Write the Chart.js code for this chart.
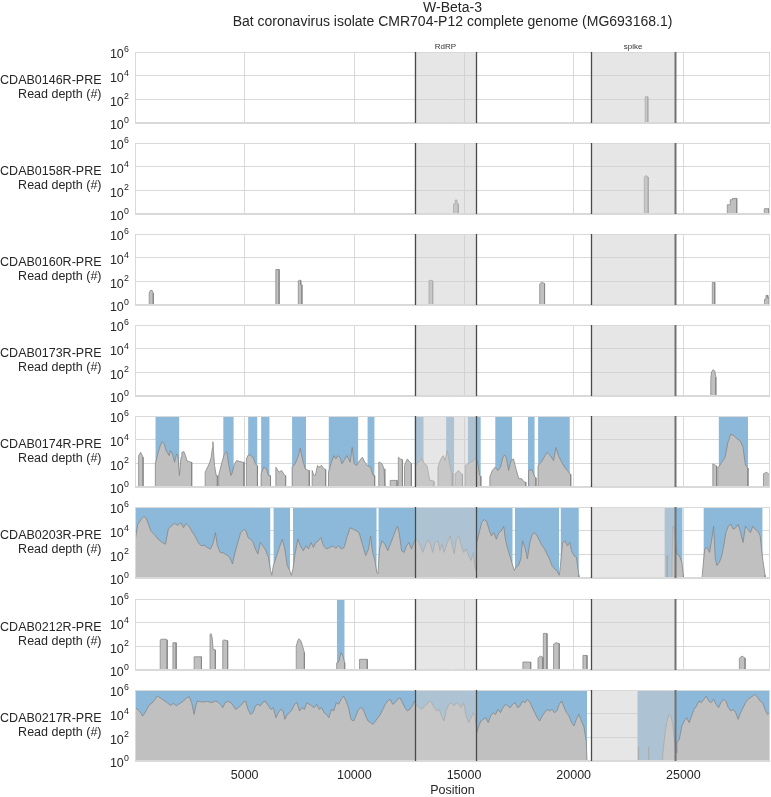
<!DOCTYPE html>
<html>
<head>
<meta charset="utf-8">
<script src="https://cdn.jsdelivr.net/npm/chart.js@4.4.0/dist/chart.umd.min.js"></script>
<style>
  body { margin: 0; background: #fff; }
  #wrap { position: relative; width: 771px; height: 797px; }
  #wrap canvas { position: absolute; left: 0; }
</style>
</head>
<body>
<div id="wrap"></div>
<script>
'use strict';

// *************** GLOBALS / DATA
const titleLines = ['W-Beta-3', 'Bat coronavirus isolate CMR704-P12 complete genome (MG693168.1)'];
const sampleNames = ['CDAB0146R-PRE', 'CDAB0158R-PRE', 'CDAB0160R-PRE', 'CDAB0173R-PRE',
  'CDAB0174R-PRE', 'CDAB0203R-PRE', 'CDAB0212R-PRE', 'CDAB0217R-PRE'];
const genomeLength = 28950;
const xTicks = [0, 5000, 10000, 15000, 20000, 25000];
const yTicks = [1, 100, 10000, 1000000];

// gene regions
const regionNames = ['RdRP', 'spike'];
const regionStarts = [12750, 20790];
const regionEnds = [15560, 24630];

// coverage, one inner array per covered stretch (position / read depth)
const pos0146 = [[23260, 23320, 23380]];
const depth0146 = [[160, 180, 160]];

const pos0158 = [[14520, 14590, 14600, 14680, 14690, 14740], [23220, 23280, 23350, 23400],
  [27003, 27130, 27140, 27230, 27240, 27300, 27320, 27340, 27432], [28690, 28900]];
const depth0158 = [[7, 7, 15, 15, 7, 7], [1300, 1700, 1600, 1300],
  [6, 6, 16, 16, 21, 21, 18, 21, 21], [2.8, 2.8]];

const pos0160 = [[648, 700, 780, 835], [6420, 6570], [7445, 7500, 7540, 7560, 7610],
  [13403, 13460, 13572], [18450, 18520, 18600, 18672], [26320, 26430],
  [28700, 28760, 28770, 28840, 28850, 28920]];
const depth0160 = [[10, 17, 17, 10], [1000, 1000], [110, 125, 120, 50, 50],
  [110, 125, 110], [60, 80, 75, 65], [79, 79], [3, 3, 6.6, 6.6, 4, 4]];

const pos0173 = [[26250, 26290, 26360, 26430, 26480]];
const depth0173 = [[30, 110, 170, 130, 40]];

const pos0174 = [
  [164, 257, 368],
  [927, 1057, 1151, 1244, 1337, 1393, 1467, 1560, 1616, 1709, 1802, 1895, 1951, 2026, 2100, 2137, 2230, 2305, 2361, 2454, 2547, 2584],
  [3199, 3290, 3385, 3470, 3530, 3552, 3580, 3627, 3701, 3757],
  [3813, 3944, 4074, 4186, 4279, 4372, 4446, 4502, 4632, 4781, 4912, 4968],
  [5079, 5160, 5247, 5377, 5489, 5582],
  [5750, 5861, 5992, 6085, 6178],
  [6420, 6569, 6681, 6830, 6867],
  [7165, 7295, 7425, 7537, 7630, 7761, 7891, 7947],
  [8077, 8150, 8226, 8319, 8375, 8505, 8617, 8692],
  [8822, 8934, 9064, 9157, 9250, 9343, 9436, 9530, 9660, 9809, 9902, 9995, 10107, 10237, 10367, 10479, 10591, 10740, 10852, 10926],
  [11112, 11149, 11261, 11354, 11392],
  [11634, 11950],
  [12006, 12099, 12193],
  [12286, 12416, 12528, 12602],
  [12788, 12974, 13086, 13198, 13310, 13440, 13570, 13626],
  [13812, 13942, 14054, 14129, 14240, 14333, 14427, 14464],
  [14594, 14743, 14873, 14929],
  [15060, 15171, 15302, 15432, 15544, 15618, 15712, 15767],
  [16177, 16289, 16419, 16549, 16661, 16773, 16847, 16922, 17033, 17145, 17257, 17369, 17499, 17629, 17741, 17815],
  [17946, 18095, 18225, 18281],
  [18374, 18523, 18653, 18784, 18933, 19082, 19194, 19305, 19454, 19584, 19715, 19826, 19864],
  [26343, 26474, 26511],
  [26567, 26604, 26753, 26902, 27032, 27163, 27312, 27461, 27591, 27721, 27833, 27945],
  [28652, 28801, 28950]
];
const depth0174 = [
  [450, 850, 325],
  [90, 850, 3100, 6700, 4300, 1620, 850, 450, 1180, 620, 124, 620, 510, 9.5, 325, 850, 980, 450, 171, 141, 124, 124],
  [18, 40, 90, 300, 2000, 6700, 900, 66, 9.5, 9],
  [9.5, 90, 620, 980, 66, 9.5, 18, 66, 171, 141, 124, 124],
  [236, 500, 510, 325, 90, 60],
  [13, 47, 34, 9.5, 9],
  [47, 18, 25, 9.5, 9],
  [47, 90, 325, 1860, 236, 34, 25, 25],
  [25, 10, 9.5, 66, 47, 66, 34, 30],
  [18, 90, 450, 236, 450, 325, 90, 171, 450, 124, 2240, 90, 66, 171, 325, 124, 66, 47, 9.5, 9],
  [124, 124, 90, 34, 30],
  [3.6, 3.6],
  [325, 236, 200],
  [66, 236, 124, 100],
  [66, 171, 236, 90, 66, 3.6, 3.6, 3],
  [47, 236, 450, 171, 1180, 124, 18, 15],
  [13, 25, 13, 12],
  [66, 90, 124, 171, 325, 124, 9.5, 8],
  [6.9, 25, 47, 25, 47, 325, 510, 325, 25, 171, 236, 34, 5, 5, 2.6, 2.6],
  [25, 30, 6.9, 6],
  [66, 124, 325, 850, 450, 171, 2240, 450, 124, 47, 25, 13, 12],
  [90, 66, 60],
  [50, 47, 124, 325, 5900, 29500, 21400, 11200, 8100, 2240, 66, 40],
  [13, 18, 9.5]
];

const pos0203 = [
  [15, 126, 275, 406, 499, 592, 722, 871, 1057, 1244,
    1393, 1523, 1653, 1802, 1951, 2082, 2212, 2324, 2454, 2584,
    2733, 2882, 3013, 3143, 3292, 3441, 3571, 3664, 3757, 3888,
    4037, 4186, 4316, 4446, 4558, 4688, 4819, 4968, 5061, 5154,
    5266, 5377, 5489, 5601, 5712, 5824, 5936, 6085, 6178, 6234,
    6308, 6457, 6606, 6718, 6830, 6941, 7053, 7128, 7202, 7295,
    7425, 7537, 7668, 7798, 7910, 8021, 8133, 8245, 8356, 8468,
    8599, 8729, 8878, 9027, 9157, 9287, 9399, 9530, 9660, 9809,
    9958, 10107, 10218, 10367, 10516, 10647, 10740, 10833, 10926, 11019,
    11075, 11149, 11261, 11392, 11522, 11671, 11783, 11894, 11969, 12043,
    12155, 12267, 12378, 12490, 12602, 12695, 12788, 12900, 13011, 13123,
    13254, 13384, 13496, 13570, 13682, 13812, 13905, 13998, 14091, 14240,
    14371, 14464, 14557, 14650, 14762, 14873, 14985, 15097, 15209, 15321,
    15432, 15488, 15544, 15581, 15693, 15804, 15916, 16028, 16140, 16251,
    16363, 16475, 16586, 16698, 16810, 16884, 16996, 17108, 17220, 17294,
    17369, 17480, 17592, 17666, 17778, 17890, 18002, 18113, 18225, 18337,
    18448, 18560, 18672, 18784, 18895, 19007, 19119, 19231, 19343, 19398,
    19491, 19603, 19715, 19826, 19901, 20013, 20124, 20236],
  [24240, 24280],
  [24481, 24519, 24593, 24630, 24705, 24817, 24929, 25003],
  [25860, 25972, 26083, 26195, 26306, 26381, 26455, 26530, 26641, 26753,
    26865, 26939, 27051, 27163, 27274, 27386, 27498, 27610, 27721, 27833,
    27945, 28056, 28168, 28280, 28392, 28503, 28615, 28727]
];
const depth0203 = [
  [1900, 34000, 87000, 166000, 120000, 47000, 9400, 4900, 1900, 1000,
    720, 14700, 24500, 41000, 28000, 47000, 17800, 41000, 24500, 9400,
    3600, 1000, 525, 600, 380, 280, 1000, 6800, 525, 146,
    129, 87, 56, 15.5, 146, 1000, 6800, 12900, 9400, 2600,
    1900, 1140, 280, 107, 1000, 525, 280, 56, 4.4, 1.7,
    11.4, 78, 525, 1900, 280, 11.4, 4.4, 1.7, 6, 107,
    1900, 525, 200, 525, 280, 1000, 380, 1000, 1380, 2600,
    525, 280, 380, 525, 320, 525, 280, 380, 2600, 17800,
    12900, 9400, 6800, 720, 78, 280, 3600, 146, 41, 3.2,
    2.3, 280, 1380, 720, 200, 1000, 3600, 12900, 24500, 6800,
    200, 146, 525, 1000, 280, 720, 2150, 1380, 525, 146,
    720, 1670, 525, 146, 1000, 1380, 200, 720, 146, 1000,
    3600, 525, 107, 1900, 3600, 525, 146, 280, 78, 30,
    146, 11.4, 4.4, 1000, 6800, 47000, 87000, 63000, 12900, 3600,
    6800, 1900, 6800, 9400, 24500, 1900, 280, 56, 11.4, 4.4,
    8.3, 11.4, 41, 1380, 380, 41, 1000, 4900, 6800, 3600,
    1380, 525, 280, 107, 41, 11.4, 6, 4.4, 1.7, 11.4,
    1000, 1380, 525, 1000, 200, 78, 56, 1.7],
  [78, 78],
  [11.4, 24500, 12900, 1900, 107, 78, 21, 1.7],
  [1.7, 280, 380, 146, 2600, 24500, 41, 11.4, 21, 78,
    1000, 6800, 24500, 34000, 12900, 17800, 34000, 6800, 1000, 24500,
    12900, 6800, 24500, 12900, 9400, 3600, 41, 1.7]
];

const pos0212 = [[1150, 1200, 1420, 1467], [1728, 1877], [2696, 3031], [3422, 3470, 3520, 3560, 3664],
  [4000, 4050, 4223], [7351, 7420, 7480, 7560, 7640, 7723], [9195, 9290, 9390, 9480, 9560],
  [10237, 10591], [17685, 18039], [18374, 18480, 18597], [18616, 18700, 18784],
  [19082, 19200, 19343], [20422, 20608], [27554, 27680, 27815]];
const depth0212 = [[350, 400, 400, 350], [200, 200], [13, 13], [1000, 1170, 500, 56, 50],
  [300, 345, 300], [100, 300, 440, 300, 100, 30], [4, 5, 30, 15, 4],
  [8, 8], [4.7, 4.7], [10, 15, 12], [1200, 1260, 1200],
  [150, 205, 170], [17, 17], [10, 15, 10]];

const pos0217 = [
  [15, 126, 238, 350, 462, 573, 685, 797, 908, 1020,
    1132, 1244, 1355, 1467, 1616, 1765, 1877, 1988, 2100, 2212,
    2361, 2473, 2584, 2696, 2770, 2845, 2957, 3106, 3292, 3478,
    3664, 3776, 3888, 4000, 4111, 4223, 4372, 4483, 4595, 4707,
    4819, 4930, 5042, 5154, 5266, 5377, 5489, 5601, 5712, 5824,
    5936, 6085, 6197, 6308, 6420, 6532, 6643, 6755, 6830, 6941,
    7053, 7165, 7276, 7388, 7500, 7612, 7723, 7835, 7947, 8059,
    8170, 8282, 8394, 8505, 8617, 8729, 8841, 8952, 9064, 9176,
    9287, 9399, 9511, 9623, 9734, 9846, 9958, 10070, 10181, 10293,
    10405, 10516, 10628, 10740, 10852, 10963, 11075, 11187, 11298, 11410,
    11522, 11634, 11745, 11857, 11969, 12080, 12192, 12304, 12416, 12527,
    12639, 12751, 12862, 12974, 13086, 13198, 13309, 13421, 13533, 13645,
    13756, 13868, 13980, 14091, 14203, 14315, 14427, 14538, 14650, 14762,
    14873, 14985, 15097, 15209, 15320, 15432, 15507, 15581, 15674, 15767,
    15879, 15991, 16103, 16214, 16326, 16438, 16550, 16661, 16773, 16885,
    16997, 17108, 17220, 17332, 17444, 17555, 17667, 17779, 17891, 18002,
    18114, 18226, 18337, 18449, 18561, 18673, 18784, 18896, 19008, 19119,
    19231, 19343, 19455, 19566, 19678, 19790, 19902, 20013, 20125, 20237,
    20349, 20460, 20572, 20608],
  [22940, 22970],
  [23400, 23430],
  [24054, 24166, 24240, 24333, 24428, 24519, 24593, 24667, 24705, 24817,
    24929, 25040, 25152, 25264, 25376, 25487, 25599, 25711, 25822, 25934,
    26046, 26158, 26269, 26381, 26493, 26604, 26716, 26828, 26939, 27051,
    27163, 27274, 27386, 27498, 27610, 27721, 27833, 27945, 28056, 28168,
    28280, 28392, 28503, 28615, 28727, 28838, 28950]
];
const depth0217 = [
  [32000, 23000, 13800, 6300, 12100, 32000, 62000, 85000, 163000, 310000,
    225000, 163000, 117000, 85000, 50000, 74000, 45000, 62000, 85000, 117000,
    225000, 275000, 85000, 8700, 45000, 117000, 103000, 97000, 110000, 85000,
    117000, 97000, 62000, 32000, 85000, 110000, 85000, 45000, 23000, 32000,
    50000, 85000, 117000, 23000, 8700, 12100, 45000, 62000, 45000, 85000,
    117000, 45000, 23000, 32000, 4600, 12100, 23000, 17000, 3300, 8700,
    12100, 23000, 62000, 85000, 17000, 32000, 23000, 85000, 62000, 45000,
    32000, 62000, 23000, 32000, 12100, 8700, 4600, 23000, 17000, 85000,
    62000, 163000, 310000, 117000, 32000, 3300, 2400, 6300, 23000, 32000,
    23000, 6300, 2400, 1740, 1260, 2400, 4600, 8700, 23000, 62000,
    117000, 163000, 62000, 85000, 163000, 225000, 85000, 32000, 17000, 23000,
    45000, 117000, 45000, 32000, 23000, 45000, 62000, 117000, 85000, 32000,
    17000, 23000, 6300, 2400, 23000, 62000, 85000, 45000, 85000, 62000,
    32000, 85000, 6300, 1740, 4600, 12100, 6300, 250, 910, 2400,
    3300, 4600, 1740, 6300, 12100, 8700, 23000, 12100, 32000, 62000,
    45000, 32000, 62000, 85000, 32000, 45000, 117000, 85000, 163000, 97000,
    32000, 12100, 4600, 2400, 6300, 12100, 23000, 17000, 23000, 12100,
    17000, 62000, 117000, 32000, 12100, 6300, 1740, 910, 3300, 8700,
    2400, 910, 49, 1],
  [16, 16],
  [16, 16],
  [2.6, 250, 1740, 8700, 6300, 1260, 68, 5, 35, 68,
    910, 2400, 4600, 1740, 6300, 23000, 45000, 117000, 85000, 163000,
    310000, 117000, 85000, 163000, 62000, 32000, 85000, 163000, 117000, 32000,
    17000, 23000, 12100, 3300, 12100, 32000, 85000, 163000, 225000, 310000,
    430000, 225000, 117000, 85000, 23000, 8700, 12100]
];

// blue spans (start, end)
const spans0146 = [];
const spans0158 = [];
const spans0160 = [];
const spans0173 = [];
const spans0174 = [[926, 2026], [4020, 4503], [5156, 5584], [5748, 6140], [7162, 7796], [8823, 10182],
  [10593, 10926], [12751, 13162], [14183, 14557], [15173, 15766], [16420, 17199], [17910, 18225],
  [18375, 19826], [26606, 27947]];
const spans0203 = [[0, 6178], [6308, 7072], [7202, 11020], [11094, 17220], [17313, 19343],
  [19400, 20236], [24136, 24967], [25915, 28615]];
const spans0212 = [[9200, 9560]];
const spans0217 = [[0, 20608], [22900, 28950]];

const allPos = [pos0146, pos0158, pos0160, pos0173, pos0174, pos0203, pos0212, pos0217];
const allDepth = [depth0146, depth0158, depth0160, depth0173, depth0174, depth0203, depth0212, depth0217];
const allSpans = [spans0146, spans0158, spans0160, spans0173, spans0174, spans0203, spans0212, spans0217];

// *************** LAYOUT
const panelTops = [52, 143, 234, 325, 416, 507, 599, 690];
const panelHeight = 71;
const plotLeft = 135;
const FONT = '"Liberation Sans", Arial, sans-serif';
const TEXT = '#262626';
const GRID = '#d9d9d9';

Chart.defaults.font.family = FONT;

// ********** HELPERS
function coveragePoints(posSegs, depthSegs) {
  let pts = [];
  posSegs.forEach(function (seg, s) {
    let d = depthSegs[s];
    pts.push({ x: seg[0], y: 1 });
    for (let i = 0; i < seg.length; i++) {
      pts.push({ x: seg[i], y: d[i] });
    }
    pts.push({ x: seg[seg.length - 1], y: 1 });
    pts.push({ x: seg[seg.length - 1], y: null });
  });
  return pts;
}

function spanPoints(spans) {
  let pts = [];
  spans.forEach(function (sp) {
    pts.push({ x: sp[0], y: 1000000 });
    pts.push({ x: sp[1], y: 1000000 });
    pts.push({ x: sp[1], y: null });
  });
  return pts;
}

const panelPlugin = {
  id: 'panel',
  afterDatasetsDraw(chart) {
    let ctx = chart.ctx;
    let a = chart.chartArea;
    let x = chart.scales.x;
    ctx.save();
    ctx.fillStyle = 'rgba(205,205,205,0.5)';
    for (let k = 0; k < regionStarts.length; k++) {
      let x0 = x.getPixelForValue(regionStarts[k]);
      let x1 = x.getPixelForValue(regionEnds[k]);
      ctx.fillRect(x0, a.top, x1 - x0, a.bottom - a.top);
    }
    ctx.restore();
  },
  afterDraw(chart, args, opts) {
    let ctx = chart.ctx;
    let a = chart.chartArea;
    let x = chart.scales.x;
    let y = chart.scales.y;
    ctx.save();

    // frame
    ctx.strokeStyle = GRID;
    ctx.lineWidth = 1;
    ctx.strokeRect(a.left + 0.5, a.top + 0.5, a.right - a.left - 1, a.bottom - a.top - 1);

    // region borders
    let edges = [regionStarts[0], regionEnds[0], regionStarts[1], regionEnds[1]];
    edges.forEach(function (e, k) {
      let px = Math.round(x.getPixelForValue(e)) + 0.5;
      ctx.strokeStyle = k === 3 ? '#727272' : '#4a4a4a';
      ctx.lineWidth = k === 3 ? 2 : 1.3;
      ctx.beginPath();
      ctx.moveTo(px, a.top);
      ctx.lineTo(px, a.bottom);
      ctx.stroke();
    });

    ctx.fillStyle = TEXT;

    // y tick labels 10^n
    yTicks.forEach(function (v) {
      let py = y.getPixelForValue(v);
      let ex = String(Math.round(Math.log10(v)));
      ctx.textAlign = 'right';
      ctx.textBaseline = 'middle';
      ctx.font = '8.8px ' + FONT;
      let ew = ctx.measureText(ex).width;
      ctx.fillText(ex, 129, py - 2.5);
      ctx.font = '12.5px ' + FONT;
      ctx.fillText('10', 129 - ew - 0.3, py + 3);
    });

    // sample label
    let mid = (a.top + a.bottom) / 2;
    ctx.font = '12.5px ' + FONT;
    ctx.textAlign = 'right';
    ctx.textBaseline = 'middle';
    ctx.fillText(opts.name, 101.5, mid - 7.3);
    ctx.fillText('Read depth (#)', 101.5, mid + 7);

    if (opts.first) {
      ctx.textAlign = 'center';
      ctx.font = '8px ' + FONT;
      ctx.fillStyle = '#333';
      for (let k = 0; k < regionNames.length; k++) {
        let cx = (x.getPixelForValue(regionStarts[k]) + x.getPixelForValue(regionEnds[k])) / 2;
        ctx.fillText(regionNames[k], cx, a.top - 5.5);
      }
      ctx.fillStyle = TEXT;
      ctx.font = '14px ' + FONT;
      let tx = (a.left + a.right) / 2;
      ctx.fillText(titleLines[0], tx, 8);
      ctx.fillText(titleLines[1], tx, 22.5);
    }
    if (opts.last) {
      ctx.textAlign = 'center';
      ctx.font = '12.5px ' + FONT;
      ctx.fillText('Position', (a.left + a.right) / 2, a.bottom + 29.5);
    }
    ctx.restore();
  }
};

// **************** EXECUTABLE CODE
let wrap = document.getElementById('wrap');

for (let i = 0; i < sampleNames.length; i++) {
  let first = i === 0;
  let last = i === sampleNames.length - 1;
  let canvasTop = first ? 0 : panelTops[i] - 14;
  let padTop = panelTops[i] - canvasTop;
  let canvasHeight = last ? 797 - canvasTop : padTop + panelHeight + 12;
  let xHeight = canvasHeight - padTop - panelHeight;

  let canvas = document.createElement('canvas');
  canvas.width = 771;
  canvas.height = canvasHeight;
  canvas.style.top = canvasTop + 'px';
  wrap.appendChild(canvas);

  let chartObj = {
    type: 'line',
    data: {
      datasets: [{
        data: coveragePoints(allPos[i], allDepth[i]),
        fill: 'start',
        backgroundColor: '#c0c0c0',
        borderColor: '#858585',
        borderWidth: 0.8,
        pointRadius: 0,
        tension: 0,
        spanGaps: false,
        order: 1
      },
      {
        data: spanPoints(allSpans[i]),
        fill: 'start',
        backgroundColor: '#8cb9da',
        borderWidth: 0,
        borderColor: 'rgba(0,0,0,0)',
        pointRadius: 0,
        spanGaps: false,
        order: 2
      }]
    },
    options: {
      responsive: false,
      animation: false,
      events: [],
      layout: { padding: { top: padTop, right: 1, bottom: 0, left: 0 } },
      plugins: {
        legend: { display: false },
        tooltip: { enabled: false },
        panel: { name: sampleNames[i], first: first, last: last }
      },
      scales: {
        x: {
          type: 'linear',
          min: 0,
          max: genomeLength,
          z: 1,
          grid: { color: GRID, lineWidth: 1, drawTicks: false },
          border: { display: false },
          ticks: {
            display: last,
            padding: 7,
            autoSkip: false,
            maxRotation: 0,
            color: TEXT,
            font: { size: 12.5 },
            callback: function (v) { return v === 0 ? '' : String(v); }
          },
          afterBuildTicks: function (s) { s.ticks = xTicks.map(function (v) { return { value: v }; }); },
          afterFit: function (s) { s.height = xHeight; }
        },
        y: {
          type: 'logarithmic',
          min: 1,
          max: 1000000,
          z: 1,
          grid: { color: GRID, lineWidth: 1, drawTicks: false },
          border: { display: false },
          ticks: { display: false },
          afterBuildTicks: function (s) { s.ticks = yTicks.map(function (v) { return { value: v }; }); },
          afterFit: function (s) { s.width = plotLeft; }
        }
      }
    },
    plugins: [panelPlugin]
  };

  new Chart(canvas, chartObj);//eslint-disable-line
}
</script>
</body>
</html>
